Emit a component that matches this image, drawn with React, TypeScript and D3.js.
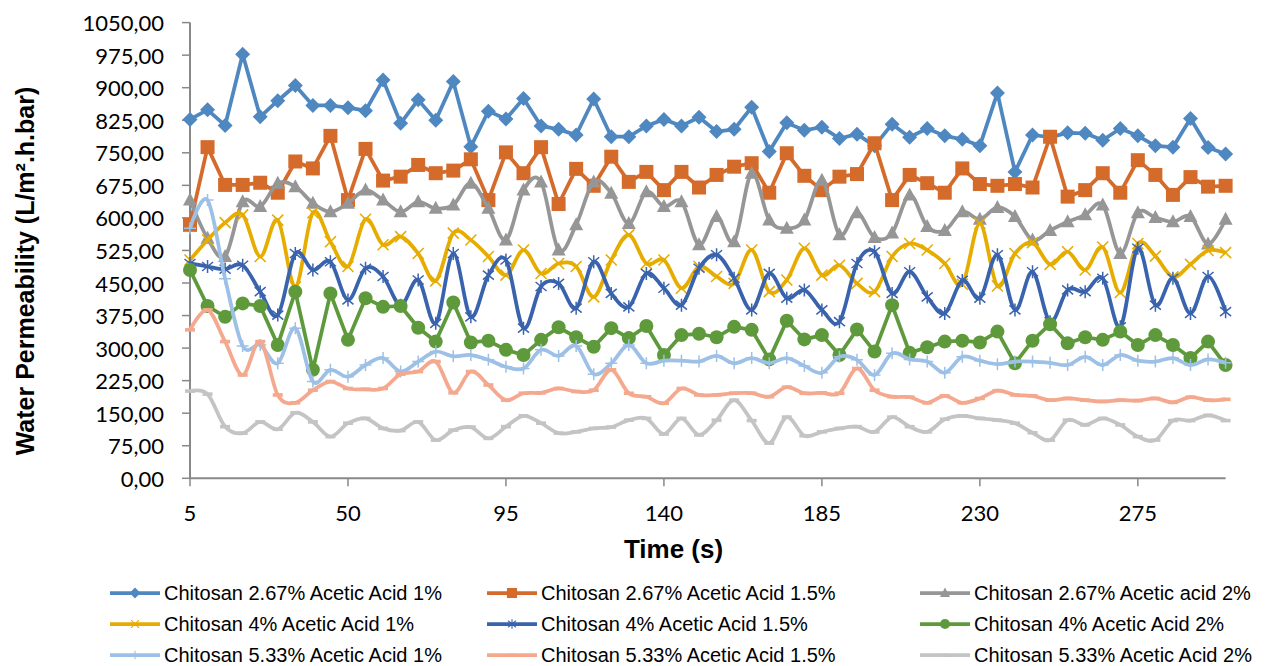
import React from "react";
import * as d3 from "d3";

// time stamps (s)
const times = [
  5, 10, 15, 20, 25, 30, 35, 40, 45, 50, 55, 60, 65, 70, 75, 80, 85, 90, 95, 100,
  105, 110, 115, 120, 125, 130, 135, 140, 145, 150, 155, 160, 165, 170, 175, 180, 185, 190, 195, 200,
  205, 210, 215, 220, 225, 230, 235, 240, 245, 250, 255, 260, 265, 270, 275, 280, 285, 290, 295, 300,
];

const xTickLabels = [5, 50, 95, 140, 185, 230, 275];
const yTicks = [0, 75, 150, 225, 300, 375, 450, 525, 600, 675, 750, 825, 900, 975, 1050];

// Chitosan 2.67%
const c267a1 = [
  827, 849, 813, 977, 833, 870, 905, 859, 859, 854, 847, 918, 818, 872, 825, 914, 764, 846, 828, 875,
  812, 804, 791, 874, 787, 787, 812, 827, 812, 832, 799, 804, 855, 753, 819, 802, 809, 783, 793, 766,
  816, 786, 806, 789, 781, 766, 888, 706, 791, 786, 796, 795, 779, 806, 789, 766, 763, 829, 762, 747,
];
const c267a15 = [
  584, 763, 676, 676, 681, 658, 730, 714, 789, 641, 759, 686, 695, 722, 703, 709, 735, 641, 751, 703,
  763, 632, 713, 674, 741, 683, 706, 664, 706, 670, 699, 718, 726, 658, 749, 697, 664, 695, 701, 772,
  641, 699, 680, 658, 714, 678, 674, 678, 670, 787, 649, 664, 703, 658, 733, 699, 653, 694, 672, 674,
];
const c267a2 = [
  641, 553, 511, 637, 626, 680, 672, 634, 614, 634, 664, 641, 614, 637, 622, 630, 680, 622, 549, 664,
  683, 526, 584, 683, 657, 587, 660, 626, 637, 538, 603, 545, 703, 595, 576, 595, 687, 561, 612, 555,
  565, 653, 580, 571, 614, 597, 624, 603, 549, 571, 591, 607, 630, 518, 612, 601, 591, 603, 540, 597,
];
// Chitosan 4%
const c4a1 = [
  503, 549, 589, 607, 511, 595, 441, 612, 545, 488, 597, 538, 557, 518, 455, 565, 549, 511, 468, 526,
  472, 495, 488, 418, 503, 561, 495, 503, 438, 488, 465, 449, 526, 430, 457, 530, 468, 491, 449, 430,
  511, 541, 526, 495, 447, 587, 443, 518, 543, 493, 522, 480, 533, 428, 541, 512, 464, 493, 525, 520,
];
const c4a15 = [
  495, 488, 482, 491, 430, 376, 518, 480, 499, 411, 484, 465, 399, 457, 357, 518, 372, 468, 503, 346,
  442, 449, 392, 499, 426, 395, 472, 438, 399, 484, 515, 461, 388, 472, 415, 434, 388, 361, 495, 522,
  426, 476, 418, 380, 456, 415, 515, 388, 476, 361, 434, 430, 461, 349, 530, 399, 461, 380, 465, 384,
];
const c4a2 = [
  480, 397, 372, 403, 397, 307, 430, 250, 426, 319, 415, 395, 397, 347, 315, 405, 313, 317, 296, 284,
  319, 348, 325, 303, 346, 323, 351, 284, 330, 333, 325, 349, 342, 274, 363, 320, 330, 284, 343, 292,
  399, 289, 302, 315, 317, 313, 338, 265, 317, 355, 311, 325, 319, 338, 307, 330, 307, 277, 315, 261,
];
// Chitosan 5.33%
const c533a1 = [
  576, 641, 460, 305, 307, 265, 346, 223, 250, 234, 261, 277, 246, 269, 292, 281, 284, 273, 257, 253,
  296, 282, 305, 240, 265, 307, 265, 271, 271, 269, 282, 265, 277, 265, 277, 259, 243, 280, 273, 238,
  288, 274, 269, 243, 280, 271, 263, 269, 269, 266, 261, 280, 261, 284, 271, 269, 277, 261, 274, 266,
];
const c533a15 = [
  342, 388, 315, 238, 315, 192, 174, 203, 223, 207, 205, 207, 240, 246, 269, 197, 246, 215, 180, 196,
  197, 207, 200, 203, 250, 196, 188, 173, 207, 192, 192, 196, 196, 188, 210, 196, 197, 196, 253, 203,
  188, 187, 174, 190, 174, 184, 202, 192, 190, 180, 184, 180, 177, 180, 179, 184, 175, 187, 180, 182,
];
const c533a2 = [
  201, 194, 119, 104, 130, 113, 151, 130, 96, 127, 138, 115, 110, 130, 88, 111, 118, 92, 119, 144,
  127, 104, 107, 115, 118, 134, 138, 102, 138, 100, 134, 180, 133, 81, 141, 98, 107, 115, 119, 107,
  141, 119, 107, 136, 144, 138, 134, 127, 105, 88, 134, 123, 138, 123, 96, 88, 133, 133, 145, 133,
];

const series = [
  { name: "Chitosan 2.67% Acetic Acid 1%", values: c267a1, color: "#4F88C0", marker: "diamond", smooth: false },
  { name: "Chitosan 2.67% Acetic Acid 1.5%", values: c267a15, color: "#D56B2B", marker: "square", smooth: false },
  { name: "Chitosan 2.67% Acetic acid 2%", values: c267a2, color: "#969696", marker: "triangle", smooth: true },
  { name: "Chitosan 4% Acetic Acid 1%", values: c4a1, color: "#E6AC00", marker: "x", smooth: true },
  { name: "Chitosan 4% Acetic Acid 1.5%", values: c4a15, color: "#3A63AD", marker: "star", smooth: true },
  { name: "Chitosan 4% Acetic Acid 2%", values: c4a2, color: "#5E9A3C", marker: "circle", smooth: false },
  { name: "Chitosan 5.33% Acetic Acid 1%", values: c533a1, color: "#9DC0E6", marker: "plus", smooth: true },
  { name: "Chitosan 5.33% Acetic Acid 1.5%", values: c533a15, color: "#F4A98F", marker: "dash", smooth: true },
  { name: "Chitosan 5.33% Acetic Acid 2%", values: c533a2, color: "#C4C4C4", marker: "dash", smooth: true },
];

const Marker = ({ type, cx, cy, color, k = 1 }) => {
  const t = `translate(${cx},${cy}) scale(${k})`;
  switch (type) {
    case "diamond":
      return <path transform={t} d="M0,-7.5L7.5,0L0,7.5L-7.5,0Z" fill={color} />;
    case "square":
      return <rect transform={t} x={-7} y={-7} width={14} height={14} fill={color} />;
    case "triangle":
      return <path transform={t} d="M0,-7.5L7,5.5L-7,5.5Z" fill={color} />;
    case "circle":
      return <circle transform={t} r={7} fill={color} />;
    case "x":
      return <path transform={t} d="M-5.5,-5.5L5.5,5.5M-5.5,5.5L5.5,-5.5" stroke={color} strokeWidth={1.6} />;
    case "star":
      return <path transform={t} d="M0,-6.5L0,6.5M-5.5,-4.5L5.5,4.5M-5.5,4.5L5.5,-4.5" stroke={color} strokeWidth={1.5} />;
    case "plus":
      return <path transform={t} d="M-6,0L6,0M0,-6L0,6" stroke={color} strokeWidth={1.5} />;
    case "dash":
      return <rect transform={t} x={-5} y={-1.8} width={10} height={3.6} fill={color} />;
    default:
      return null;
  }
};

const fmt = (v) => v.toFixed(2).replace(".", ",");

export default function App() {
  const width = 1283;
  const height = 666;

  const x = d3.scaleLinear().domain([5, 300]).range([190, 1225.6]);
  const y = d3.scaleLinear().domain([0, 1050]).range([478.3, 22.6]);

  const axisColor = "#888888";
  const legendCols = [110, 487, 920];
  const legendRows = [593, 624, 655];

  return (
    <svg
      width={width}
      height={height}
      style={{ position: "absolute", left: 0, top: 0, display: "block", background: "#fff" }}
    >
      {/* axes */}
      <line x1={x(5)} x2={x(5)} y1={y(1050)} y2={y(0)} stroke={axisColor} strokeWidth={2} />
      <line x1={x(5)} x2={x(300)} y1={y(0)} y2={y(0)} stroke={axisColor} strokeWidth={2} />
      {yTicks.map((t) => (
        <g key={t}>
          <line x1={x(5) - 8} x2={x(5)} y1={y(t)} y2={y(t)} stroke={axisColor} strokeWidth={1.5} />
          <text
            x={164}
            y={y(t)}
            textAnchor="end"
            dominantBaseline="central"
            fontFamily="Lato, 'Liberation Sans', sans-serif"
            fontSize={22}
            fill="#000"
          >
            {fmt(t)}
          </text>
        </g>
      ))}
      {xTickLabels.map((t) => (
        <g key={t}>
          <line x1={x(t)} x2={x(t)} y1={y(0)} y2={y(0) + 8} stroke={axisColor} strokeWidth={1.5} />
          <text
            x={x(t)}
            y={521}
            textAnchor="middle"
            fontFamily="Lato, 'Liberation Sans', sans-serif"
            fontSize={22}
            fill="#000"
          >
            {t}
          </text>
        </g>
      ))}

      {/* axis titles */}
      <text
        x={673.5}
        y={558}
        textAnchor="middle"
        fontFamily="'Liberation Sans', Arial, sans-serif"
        fontWeight="bold"
        fontSize={26}
      >
        Time (s)
      </text>
      <text
        transform="translate(34,271) rotate(-90)"
        textAnchor="middle"
        fontFamily="'Liberation Sans', Arial, sans-serif"
        fontWeight="bold"
        fontSize={25}
      >
        Water Permeability (L/m².h.bar)
      </text>

      {/* series */}
      {series.map((s) => {
        const line = d3
          .line()
          .x((_, i) => x(times[i]))
          .y((d) => y(d))
          .curve(s.smooth ? d3.curveCardinal.tension(0) : d3.curveLinear);
        return (
          <g key={s.name}>
            <path d={line(s.values)} fill="none" stroke={s.color} strokeWidth={3.75} strokeLinejoin="round" />
            {s.values.map((v, i) => (
              <Marker key={i} type={s.marker} cx={x(times[i])} cy={y(v)} color={s.color} />
            ))}
          </g>
        );
      })}

      {/* legend */}
      {series.map((s, i) => {
        const lx = legendCols[i % 3];
        const ly = legendRows[Math.floor(i / 3)];
        return (
          <g key={s.name}>
            <line x1={lx} x2={lx + 50} y1={ly} y2={ly} stroke={s.color} strokeWidth={3.75} />
            <Marker type={s.marker} cx={lx + 25} cy={ly} color={s.color} k={0.72} />
            <text
              x={lx + 54}
              y={ly}
              dominantBaseline="central"
              fontFamily="'Liberation Sans', Arial, sans-serif"
              fontSize={20}
              fill="#000"
            >
              {s.name}
            </text>
          </g>
        );
      })}
    </svg>
  );
}
